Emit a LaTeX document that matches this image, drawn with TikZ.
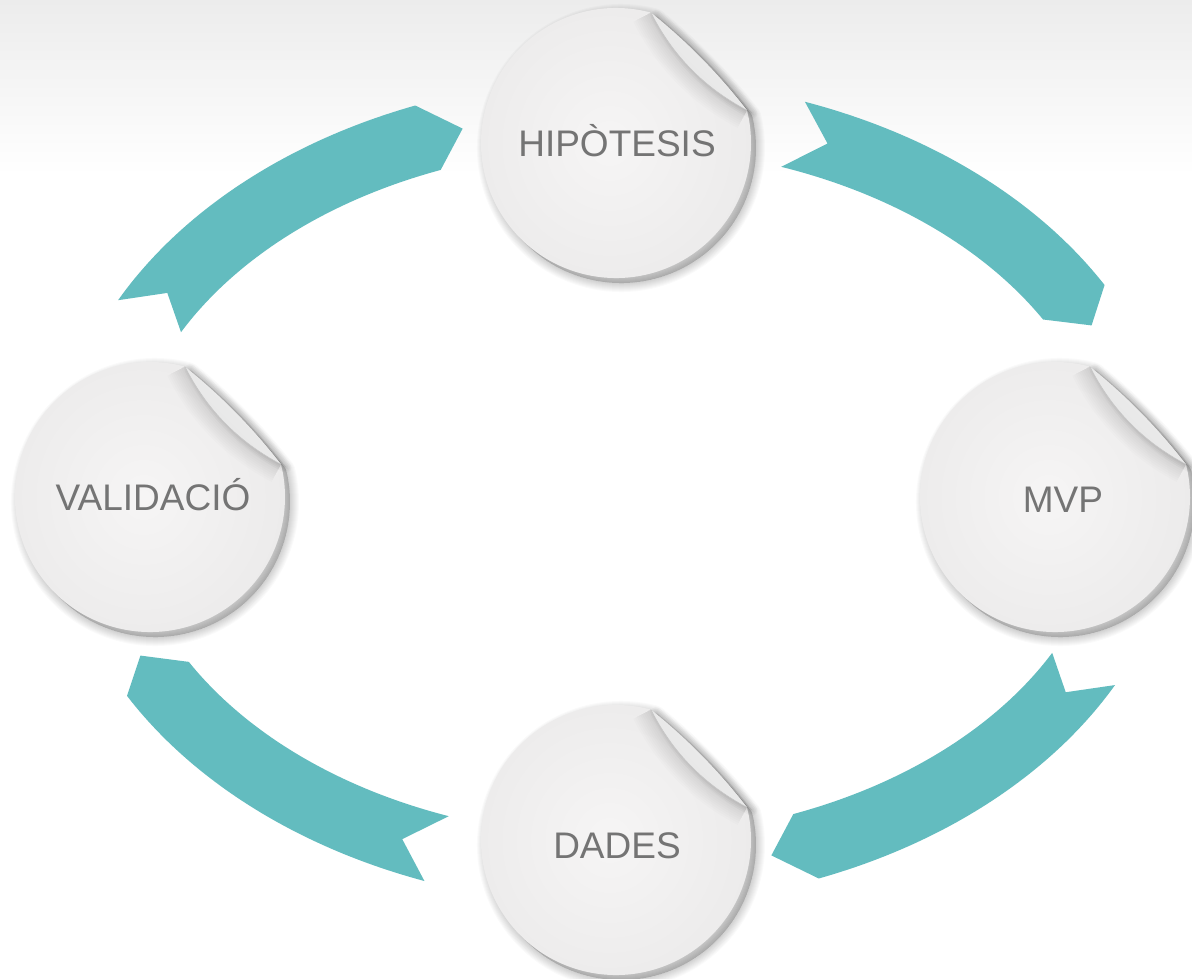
\documentclass[tikz,border=0pt]{standalone}
\usepackage{fontspec}
\setmainfont{Liberation Sans}
\definecolor{ribboncol}{HTML}{63BCBF}
\definecolor{labelgray}{HTML}{747474}
\definecolor{stickin}{HTML}{F6F5F5}
\definecolor{stickout}{HTML}{ECEBEB}
\definecolor{bgtop}{HTML}{ECECEC}
\def\bodypath{(75:135pt) arc[start angle=75, end angle=374, radius=135pt] .. controls (102.8pt,69.1pt) and (70.7pt,101.6pt) .. (75:135pt) -- cycle}
\def\curlpath{(75:135pt) .. controls (70.7pt,101.6pt) and (102.8pt,69.1pt) .. (14:135pt) .. controls (88.6pt,54.9pt) and (56.5pt,87.4pt) .. (75:135pt) -- cycle}
\def\foldline{(75:135pt) .. controls (56.5pt,87.4pt) and (88.6pt,54.9pt) .. (14:135pt)}
\newcommand\sticker[2]{%
\begin{scope}[shift={(#1,#2)}]
 \foreach \w in {2,4,...,18}{
   \filldraw[black, opacity=0.018, line width=\w pt, line join=round, shift={(5pt,-5pt)}] \bodypath;}
 \shade[inner color=stickin, outer color=stickout] \bodypath;
 \begin{scope}
  \clip \bodypath;
  \foreach \w in {4,8,...,40}{\draw[black, opacity=0.012, line width=\w pt] \foldline;}
 \end{scope}
 \foreach \w in {2,5,8,11}{
 \filldraw[black, opacity=0.025, line width=\w pt, line join=round, shift={(5pt,-3pt)}] \curlpath;}
 \shade[top color=gray!12, middle color=white, bottom color=gray!22, shading angle=-45] \curlpath;
 \draw[gray!45, line width=0.6pt] \foldline;
\end{scope}}
\newcommand\ribbon[2]{%
\fill[ribboncol] plot[domain=#1:#2, samples=50] ({617+563*cos(\x)},{492+414*sin(\x)})
 -- ({617+528*cos(#2+4)},{492+380*sin(#2+4)})
 -- plot[domain=#2:#1, samples=50] ({617+492*cos(\x)},{492+345*sin(\x)})
 -- ({617+528*cos(#1+4)},{492+380*sin(#1+4)}) -- cycle;}
\tikzset{lbl/.style={text=labelgray, font=\fontsize{37}{44}\selectfont, inner sep=0pt, anchor=base}}
\begin{document}
\begin{tikzpicture}[x=1pt,y=-1pt]
\useasboundingbox (0,0) rectangle (1192,979);
\fill[white] (0,0) rectangle (1192,979);
\shade[top color=bgtop, bottom color=white] (0,0) rectangle (1192,175);
% ribbons
\ribbon{-70.5}{-30}
\ribbon{27.8}{69}
\ribbon{110}{150.5}
\ribbon{-152.4}{-111}
% stickers
\sticker{616}{143}
\sticker{1055}{497}
\sticker{616}{840}
\sticker{150}{497}
% labels
\node[lbl] (hip) at (617,157) {HIPÒTESIS};
\node[lbl] (mvp) at (1063,512) {MVP};
\node[lbl] (dad) at (617,858) {DADES};
\node[lbl] (val) at (153,510) {VALIDACIÓ};
\end{tikzpicture}
\end{document}
